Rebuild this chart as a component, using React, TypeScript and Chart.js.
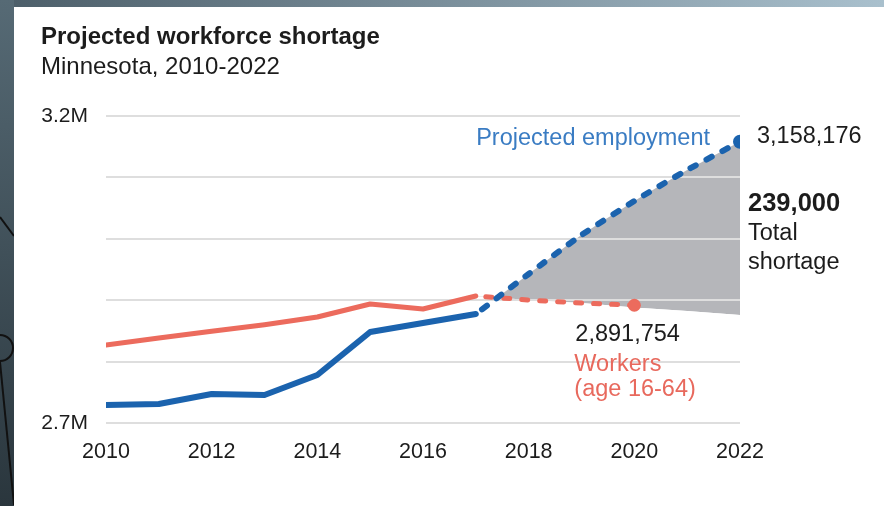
import React, { useEffect, useRef } from 'react';
import { Chart, registerables } from 'chart.js';

Chart.register(...registerables);

// ---- data ----
const years = [2010, 2011, 2012, 2013, 2014, 2015, 2016, 2017];
const employment = [2729300, 2730900, 2747200, 2745600, 2778200, 2848200, 2862900, 2877500];
const workers = [2827000, 2838400, 2849300, 2860100, 2872600, 2893800, 2885700, 2906800];

const projectedYears = [2017, 2018, 2019, 2020, 2021, 2022];
const employmentProjected = [2877500, 2942700, 3006200, 3061600, 3112100, 3158176];
const shortageFloor = [2906800, 2900300, 2895400, 2888100, 2882400, 2875900];

const workersProjectedYears = [2017, 2018, 2019, 2020];
const workersProjected = [2906800, 2900300, 2895400, 2891754];

const shortageTotal = 239000;

const xTickValues = [2010, 2012, 2014, 2016, 2018, 2020, 2022];
const yTickValues = [2700000, 3200000];
const yTickLabels = ['2.7M', '3.2M'];

const titleText = 'Projected workforce shortage';
const subtitleText = 'Minnesota, 2010-2022';
const employmentLabel = 'Projected employment';
const shortageLines = ['Total', 'shortage'];
const workersLines = ['Workers', '(age 16-64)'];

// ---- style ----
const FONT = '"Liberation Sans", Arial, Helvetica, sans-serif';
const BLUE = '#1b63ae';
const RED = '#ec6b5d';
const GRAY = '#b5b6ba';
const TEXT = '#1c1c1c';
const BLUE_TEXT = '#3a7cc3';
const RED_TEXT = '#e8695d';

const fmt = (n: number) => n.toLocaleString('en-US');

const annotationPlugin = {
  id: 'annotations',
  afterDatasetsDraw(chart: any) {
    const { ctx, scales } = chart;
    const x = scales.x;
    const y = scales.y;
    const eLast = employmentProjected.length - 1;
    const ex = x.getPixelForValue(projectedYears[eLast]);
    const ey = y.getPixelForValue(employmentProjected[eLast]);
    const wLast = workersProjected.length - 1;
    const wx = x.getPixelForValue(workersProjectedYears[wLast]);
    const wy = y.getPixelForValue(workersProjected[wLast]);

    ctx.save();
    ctx.textBaseline = 'alphabetic';
    ctx.font = `23.5px ${FONT}`;
    ctx.fillStyle = BLUE_TEXT;
    ctx.textAlign = 'right';
    ctx.fillText(employmentLabel, ex - 30, ey + 3.5);
    ctx.fillStyle = TEXT;
    ctx.textAlign = 'left';
    ctx.fillText(fmt(employmentProjected[eLast]), ex + 17, ey + 1.5);
    ctx.font = `bold 25.5px ${FONT}`;
    ctx.fillText(fmt(shortageTotal), ex + 8, ey + 69);
    ctx.font = `23.5px ${FONT}`;
    ctx.fillText(shortageLines[0], ex + 8, ey + 98);
    ctx.fillText(shortageLines[1], ex + 8, ey + 127);
    ctx.fillText(fmt(workersProjected[wLast]), wx - 59, wy + 36);
    ctx.fillStyle = RED_TEXT;
    ctx.fillText(workersLines[0], wx - 60, wy + 66);
    ctx.fillText(workersLines[1], wx - 60, wy + 91);
    ctx.restore();
  },
};

const toXY = (xs: number[], ys: number[]) => xs.map((v, i) => ({ x: v, y: ys[i] }));

export default function App() {
  const canvasRef = useRef<HTMLCanvasElement | null>(null);

  useEffect(() => {
    document.body.style.margin = '0';
    const canvas = canvasRef.current;
    if (!canvas) return;
    Chart.defaults.font.family = FONT;
    const lastE = employmentProjected.length - 1;
    const lastW = workersProjected.length - 1;
    const chart = new Chart(canvas, {
      type: 'line',
      data: {
        datasets: [
          {
            data: toXY(years, employment),
            borderColor: BLUE,
            borderWidth: 6,
            pointRadius: 0,
            tension: 0,
            borderCapStyle: 'round',
            borderJoinStyle: 'round',
            fill: false,
          },
          {
            data: toXY(years, workers),
            borderColor: RED,
            borderWidth: 5,
            pointRadius: 0,
            tension: 0,
            borderCapStyle: 'round',
            borderJoinStyle: 'round',
            fill: false,
          },
          {
            data: toXY(projectedYears, employmentProjected),
            borderColor: BLUE,
            borderWidth: 6,
            borderDash: [6, 12],
            borderDashOffset: -8,
            borderCapStyle: 'round',
            borderJoinStyle: 'round',
            tension: 0.15,
            pointRadius: projectedYears.map((_, i) => (i === lastE ? 7 : 0)),
            pointBackgroundColor: BLUE,
            pointBorderWidth: 0,
            fill: { target: 4, above: GRAY, below: 'rgba(0,0,0,0)' },
          },
          {
            data: toXY(workersProjectedYears, workersProjected),
            borderColor: RED,
            borderWidth: 5,
            borderDash: [6, 12],
            borderDashOffset: -10,
            borderCapStyle: 'round',
            borderJoinStyle: 'round',
            tension: 0,
            pointRadius: workersProjectedYears.map((_, i) => (i === lastW ? 6.5 : 0)),
            pointBackgroundColor: RED,
            pointBorderWidth: 0,
            fill: false,
          },
          {
            data: toXY(projectedYears, shortageFloor),
            borderWidth: 0,
            borderColor: 'rgba(0,0,0,0)',
            pointRadius: 0,
            tension: 0,
            fill: false,
          },
        ],
      },
      options: {
        animation: false,
        responsive: false,
        events: [],
        layout: { padding: { left: 41, right: 144, top: 12, bottom: 0 }, autoPadding: false },
        plugins: {
          legend: { display: false },
          tooltip: { enabled: false },
          filler: { drawTime: 'beforeDraw' },
          title: {
            display: true,
            text: titleText,
            align: 'start',
            color: TEXT,
            font: { size: 24, weight: 'bold', family: FONT, lineHeight: 1.25 },
            padding: { top: 10, bottom: 0 },
          },
          subtitle: {
            display: true,
            text: subtitleText,
            align: 'start',
            color: TEXT,
            font: { size: 24, weight: 'normal', family: FONT, lineHeight: 1.25 },
            padding: { top: 0, bottom: 34 },
          },
        },
        scales: {
          x: {
            type: 'linear',
            min: xTickValues[0],
            max: xTickValues[xTickValues.length - 1],
            afterBuildTicks: (s: any) => {
              s.ticks = xTickValues.map((v) => ({ value: v }));
            },
            ticks: {
              callback: (v: any) => String(v),
              color: TEXT,
              font: { size: 21.5, family: FONT },
              padding: 16,
              maxRotation: 0,
              autoSkip: false,
            },
            grid: { display: false, drawTicks: false },
            border: { display: false },
            afterFit: (s: any) => {
              s.height = 83;
            },
          },
          y: {
            type: 'linear',
            min: yTickValues[0],
            max: yTickValues[yTickValues.length - 1],
            ticks: {
              stepSize: 100000,
              callback: (v: any) => {
                const idx = yTickValues.findIndex((t) => Math.abs(t - Number(v)) < 1);
                return idx >= 0 ? yTickLabels[idx] : '';
              },
              color: TEXT,
              font: { size: 21, family: FONT },
              padding: 18,
            },
            grid: { color: '#dedede', lineWidth: 2, drawTicks: false },
            border: { display: false },
            afterFit: (s: any) => {
              s.width = 65;
            },
          },
        },
      },
      plugins: [annotationPlugin],
    } as any);
    return () => chart.destroy();
  }, []);

  return (
    <div
      style={{
        position: 'fixed',
        left: 0,
        top: 0,
        width: 884,
        height: 506,
        overflow: 'hidden',
        background: 'linear-gradient(to bottom, #566a75, #2a363d)',
      }}
    >
      <svg width={884} height={506} style={{ position: 'absolute', left: 0, top: 0 }}>
        <line x1={0} y1={217} x2={14} y2={236} stroke="#111" strokeWidth={2} />
        <circle cx={0} cy={348} r={13} fill="none" stroke="#111" strokeWidth={2} />
        <line x1={0} y1={362} x2={14} y2={505} stroke="#111" strokeWidth={2} />
        <line x1={36} y1={0} x2={36} y2={7} stroke="#111" strokeWidth={2} />
        <line x1={57} y1={0} x2={57} y2={7} stroke="#111" strokeWidth={2} />
      </svg>
      <div
        style={{
          position: 'absolute',
          left: 14,
          top: 0,
          width: 870,
          height: 7,
          background: 'linear-gradient(to right, #4d5f6a, #a9c0cd)',
        }}
      />
      <div style={{ position: 'absolute', left: 14, top: 7, right: 0, bottom: 0, background: '#ffffff' }} />
      <canvas
        ref={canvasRef}
        width={884}
        height={506}
        style={{ position: 'absolute', left: 0, top: 0, width: 884, height: 506 }}
      />
    </div>
  );
}
